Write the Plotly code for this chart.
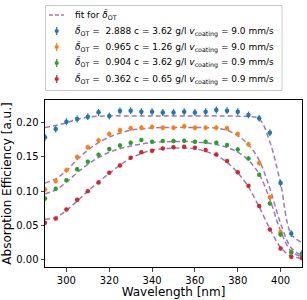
import plotly.graph_objects as go

wavelength = [290, 295, 300, 305, 310, 315, 320, 325, 330, 335, 340, 345, 350,
              355, 360, 365, 370, 375, 380, 385, 390, 395, 400, 405, 410]

blue_vals = [0.1786, 0.1908, 0.2015, 0.2054, 0.2088, 0.2152, 0.2098, 0.2171, 0.2176,
             0.2160, 0.2160, 0.2150, 0.2150, 0.2160, 0.2150, 0.2160, 0.2186, 0.2176,
             0.2161, 0.2113, 0.2064, 0.1854, 0.1118, 0.0380, 0.0088]
orange_vals = [0.1025, 0.1148, 0.1307, 0.1498, 0.1640, 0.1742, 0.1835, 0.1889, 0.1918,
               0.1927, 0.1937, 0.1927, 0.1927, 0.1947, 0.1927, 0.1927, 0.1927, 0.1918,
               0.1835, 0.1684, 0.1410, 0.0912, 0.0400, 0.0111, 0.0050]
green_vals = [0.0893, 0.1034, 0.1161, 0.1322, 0.1429, 0.1532, 0.1615, 0.1669, 0.1707,
              0.1747, 0.1722, 0.1732, 0.1732, 0.1737, 0.1722, 0.1722, 0.1707, 0.1674,
              0.1610, 0.1479, 0.1240, 0.0820, 0.0366, 0.0105, 0.0060]
red_vals = [0.0540, 0.0600, 0.0732, 0.0873, 0.1000, 0.1127, 0.1268, 0.1376, 0.1488,
            0.1567, 0.1590, 0.1625, 0.1640, 0.1649, 0.1634, 0.1600, 0.1537, 0.1439,
            0.1278, 0.1078, 0.0785, 0.0439, 0.0161, 0.0040, 0.0020]

blue_err = 0.005
orange_err = 0.0037
green_err = 0.003
red_err = 0.0025

fit_blue = [0.193, 0.196, 0.200, 0.205, 0.208, 0.2095, 0.210, 0.210, 0.210, 0.210,
            0.210, 0.210, 0.210, 0.210, 0.210, 0.210, 0.210, 0.2098, 0.2095, 0.209,
            0.2055, 0.172, 0.111, 0.037, 0.025]
fit_orange = [0.112, 0.118, 0.130, 0.146, 0.160, 0.171, 0.179, 0.185, 0.189, 0.191,
              0.1925, 0.193, 0.193, 0.193, 0.193, 0.193, 0.192, 0.189, 0.181, 0.168,
              0.145, 0.104, 0.053, 0.017, 0.006]
fit_green = [0.096, 0.102, 0.113, 0.127, 0.139, 0.149, 0.157, 0.162, 0.166, 0.169,
             0.171, 0.172, 0.1725, 0.1725, 0.172, 0.1705, 0.168, 0.164, 0.157, 0.145,
             0.125, 0.088, 0.042, 0.012, 0.004]
fit_red = [0.059, 0.0615, 0.072, 0.0855, 0.100, 0.1136, 0.126, 0.138, 0.148, 0.155,
           0.160, 0.162, 0.163, 0.163, 0.162, 0.158, 0.152, 0.142, 0.127, 0.106,
           0.077, 0.045, 0.018, 0.005, 0.002]

series_labels = [
    "<i>δ̄</i><sub>OT</sub> =  2.888 c = 3.62 g/l <i>v</i><sub>coating</sub> = 9.0 mm/s",
    "<i>δ̄</i><sub>OT</sub> =  0.965 c = 1.26 g/l <i>v</i><sub>coating</sub> = 9.0 mm/s",
    "<i>δ̄</i><sub>OT</sub> =  0.904 c = 3.62 g/l <i>v</i><sub>coating</sub> = 0.9 mm/s",
    "<i>δ̄</i><sub>OT</sub> =  0.362 c = 0.65 g/l <i>v</i><sub>coating</sub> = 0.9 mm/s",
]
fit_label = "fit for <i>δ̄</i><sub>OT</sub>"

colors = ["#1f77b4", "#ff7f0e", "#2ca02c", "#d62728"]
fit_color = "rgba(148,103,189,0.9)"

W, H = 307, 300
ML, MR, MT, MB = 45, 5, 100, 33
PW, PH = W - ML - MR, H - MT - MB


def px_x(p):
    return (p - ML) / PW


def px_y(p):
    return (H - MB - p) / PH


fig = go.Figure()

fits = [fit_blue, fit_orange, fit_green, fit_red]
for i, f in enumerate(fits):
    fig.add_trace(go.Scatter(
        x=wavelength, y=f, mode="lines", line_shape="spline",
        line=dict(color=fit_color, width=1.5, dash="5px,3px"),
        name=fit_label, showlegend=False, hoverinfo="skip"))

vals = [blue_vals, orange_vals, green_vals, red_vals]
errs = [blue_err, orange_err, green_err, red_err]
for v, e, c, lab in zip(vals, errs, colors, series_labels):
    fig.add_trace(go.Scatter(
        x=wavelength, y=v, mode="markers", name=lab, showlegend=False,
        marker=dict(color=c, size=4.5),
        error_y=dict(type="constant", value=e, color=c, thickness=1.2, width=0)))

# Manual legend (matplotlib-style compact box)
shapes = []
annotations = []
shapes.append(dict(type="rect", xref="paper", yref="paper",
                   x0=px_x(45.5), x1=px_x(282), y0=px_y(90.5), y1=px_y(5.5),
                   line=dict(color="#cccccc", width=1), fillcolor="white", layer="above"))
row_y = [15, 31, 47, 63, 79]
shapes.append(dict(type="line", xref="paper", yref="paper",
                   x0=px_x(49), x1=px_x(64), y0=px_y(row_y[0]), y1=px_y(row_y[0]),
                   line=dict(color=fit_color, width=1.5, dash="4px,2px"), layer="above"))
annotations.append(dict(text=fit_label, xref="paper", yref="paper",
                        x=px_x(73), y=px_y(row_y[0]), xanchor="left", yanchor="middle",
                        showarrow=False, font=dict(size=9)))
for ry, c, lab in zip(row_y[1:], colors, series_labels):
    shapes.append(dict(type="line", xref="paper", yref="paper",
                       x0=px_x(56.7), x1=px_x(56.7), y0=px_y(ry - 4), y1=px_y(ry + 4),
                       line=dict(color=c, width=1.2), layer="above"))
    shapes.append(dict(type="circle", xref="paper", yref="paper",
                       x0=px_x(54.6), x1=px_x(58.8), y0=px_y(ry - 2.1), y1=px_y(ry + 2.1),
                       line=dict(color=c, width=0), fillcolor=c, layer="above"))
    annotations.append(dict(text=lab, xref="paper", yref="paper",
                            x=px_x(73), y=px_y(ry), xanchor="left", yanchor="middle",
                            showarrow=False, font=dict(size=9)))

fig.update_layout(
    width=W, height=H,
    margin=dict(l=ML, r=MR, t=MT, b=MB, autoexpand=False),
    paper_bgcolor="white", plot_bgcolor="white",
    font=dict(family="DejaVu Sans", size=10, color="black"),
    showlegend=False,
    shapes=shapes, annotations=annotations,
    xaxis=dict(range=[290, 410], tickvals=[300, 320, 340, 360, 380, 400],
               ticks="outside", ticklen=3.5, tickwidth=0.8, showgrid=False,
               zeroline=False, showline=True, linecolor="black", linewidth=1,
               mirror=True, title=dict(text="Wavelength [nm]", standoff=1),
               tickfont=dict(size=10)),
    yaxis=dict(range=[-0.0108, 0.2332], tickvals=[0.0, 0.05, 0.10, 0.15, 0.20],
               tickformat=".2f", ticks="outside", ticklen=3.5, tickwidth=0.8,
               showgrid=False, zeroline=False, showline=True, linecolor="black",
               linewidth=1, mirror=True,
               title=dict(text="Absorption Efficiency [a.u.]", standoff=6),
               tickfont=dict(size=10)),
)

fig.write_html(
    "out.html",
    config={"displayModeBar": False},
    post_script="document.body.style.margin='0';document.body.style.overflow='hidden';",
)
